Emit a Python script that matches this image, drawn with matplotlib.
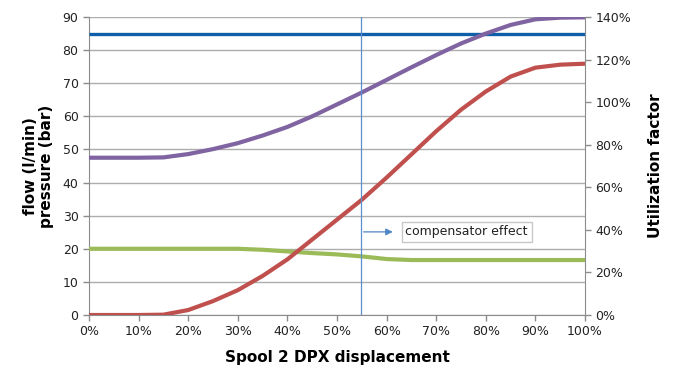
import matplotlib
matplotlib.use("Agg")
import matplotlib.pyplot as plt
from matplotlib.ticker import PercentFormatter, MultipleLocator

# Data
displacement = [0.00, 0.05, 0.10, 0.15, 0.20, 0.25, 0.30, 0.35, 0.40, 0.45, 0.50,
                0.55, 0.60, 0.65, 0.70, 0.75, 0.80, 0.85, 0.90, 0.95, 1.00]
blue_line = [85] * len(displacement)
purple_line = [47.5, 47.5, 47.5, 47.6, 48.6, 50.1, 51.9, 54.2, 56.8, 60.0, 63.6,
               67.2, 71.0, 74.8, 78.5, 82.0, 85.0, 87.6, 89.3, 89.8, 89.9]
red_line = [0.0, 0.0, 0.0, 0.1, 1.5, 4.2, 7.5, 11.8, 16.8, 22.8, 28.8,
            34.8, 41.5, 48.5, 55.5, 62.0, 67.5, 72.0, 74.7, 75.6, 75.9]
green_line = [20.0, 20.0, 20.0, 20.0, 20.0, 20.0, 20.0, 19.7, 19.2, 18.7, 18.3,
              17.7, 16.9, 16.6, 16.6, 16.6, 16.6, 16.6, 16.6, 16.6, 16.6]
compensator_x = 0.548
annotation_text = "compensator effect"
left_ticks = [0, 10, 20, 30, 40, 50, 60, 70, 80, 90]
right_ticks = [0.0, 0.2, 0.4, 0.6, 0.8, 1.0, 1.2, 1.4]

plt.rcParams['font.family'] = ['DejaVu Sans']
fig = plt.figure(figsize=(6.78, 3.69), dpi=100)
ax = fig.add_axes([89/678, 1-315/369, (585-89)/678, (315-17)/369])

grid_c = '#ADADAD'
spine_c = '#8C8C8C'

ax.set_xlim(0, 1)
ax.set_ylim(0, 90)
ax.set_yticks(left_ticks)
ax.xaxis.set_major_locator(MultipleLocator(0.1))
ax.xaxis.set_major_formatter(PercentFormatter(1.0, decimals=0))
ax.yaxis.grid(True, color=grid_c, linewidth=1.0)
ax.set_axisbelow(True)
for s in ['top', 'right']:
    ax.spines[s].set_visible(False)
for s in ['left', 'bottom']:
    ax.spines[s].set_color(spine_c)
ax.tick_params(axis='both', colors=spine_c, labelcolor='#222222', labelsize=9, length=4, width=1)

ax.plot(displacement, blue_line, color='#0E5EA8', lw=2.4, solid_capstyle='butt', zorder=3)
ax.plot(displacement, purple_line, color='#8064A2', lw=3.0, solid_capstyle='butt', zorder=3)
ax.plot(displacement, green_line, color='#9BBB59', lw=3.0, solid_capstyle='butt', zorder=3)
ax.plot(displacement, red_line, color='#C0504D', lw=3.0, solid_capstyle='butt', zorder=4)

ax.axvline(compensator_x, color='#5B8FCF', lw=0.9, zorder=5)
ax.annotate('', xy=(0.618, 25.1), xytext=(compensator_x, 25.1),
            arrowprops=dict(arrowstyle='-|>', color='#4F86C6', lw=0.9, mutation_scale=10))
ax.text(0.638, 25.1, annotation_text, fontsize=9, va='center', ha='left', color='#222222',
        bbox=dict(boxstyle='square,pad=0.3', fc='white', ec='#C8C8C8', lw=1), zorder=6)

ax.set_ylabel('flow (l/min)\npressure (bar)', fontsize=11, fontweight='bold', labelpad=6,
              linespacing=1.1)
ax.set_xlabel('Spool 2 DPX displacement', fontsize=11, fontweight='bold', labelpad=8)

ax2 = ax.twinx()
ax2.set_ylim(0, 1.4)
ax2.set_yticks(right_ticks)
ax2.yaxis.set_major_formatter(PercentFormatter(1.0, decimals=0))
for s in ['top', 'left', 'bottom']:
    ax2.spines[s].set_visible(False)
ax2.spines['right'].set_color(spine_c)
ax2.tick_params(axis='y', colors=spine_c, labelcolor='#222222', labelsize=9, length=4, width=1)
ax2.set_ylabel('Utilization factor', fontsize=11, fontweight='bold', labelpad=12)

fig.savefig('out.png', dpi=100)
